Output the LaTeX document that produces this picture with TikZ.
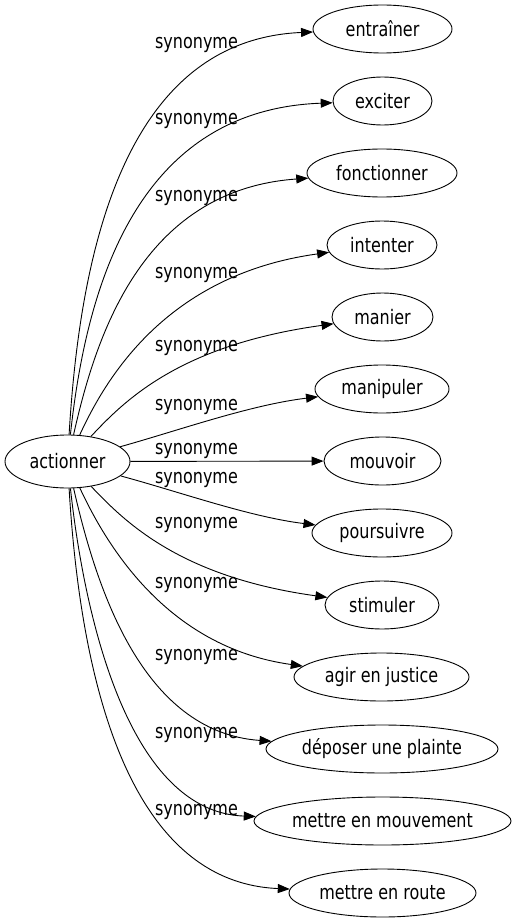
\documentclass[tikz,border=0pt]{standalone}
\usepackage{fontspec}
\setmainfont{DejaVu Sans}[FakeStretch=0.8]
\usepackage{tikz}
\usetikzlibrary{arrows.meta,shapes.geometric}

\tikzset{
  word/.style={draw, ellipse, line width=0.9pt, inner sep=0pt, minimum height=48pt, minimum width=#1},
  syn/.style={inner sep=0pt},
  rel/.style={line width=0.9pt, -{Triangle[length=12pt,width=9pt]}}
}

\begin{document}
\begin{tikzpicture}[x=1pt, y=-1pt, font=\fontsize{20}{24}\selectfont]
\useasboundingbox (0,0) rectangle (515,923);
\node[word=125pt, minimum height=53pt] (act) at (67.5,461.5) {actionner};
\node[word=139pt] (entr) at (382.5,29) {entraîner};
\node[word=99pt] (exci) at (382.5,101) {exciter};
\node[word=150pt] (fonc) at (382,173) {fonctionner};
\node[word=110pt] (inte) at (382,245) {intenter};
\node[word=101pt] (mani) at (382.5,317) {manier};
\node[word=134pt] (manp) at (382,389) {manipuler};
\node[word=117pt] (mouv) at (382.5,461) {mouvoir};
\node[word=140pt] (pour) at (382,533) {poursuivre};
\node[word=114pt] (stim) at (382,605) {stimuler};
\node[word=175pt] (agir) at (381.5,677) {agir en justice};
\node[word=232pt] (depo) at (382,749) {déposer une plainte};
\node[word=257pt] (mmvt) at (382.5,821) {mettre en mouvement};
\node[word=187pt] (mrte) at (382.5,893) {mettre en route};

% edges, top half
\draw[rel] (act) .. controls (80,250) and (125,40) .. (entr);
\draw[rel] (act) .. controls (85,300) and (130,110) .. (exci);
\draw[rel] (act) .. controls (95,340) and (140,190) .. (fonc);
\draw[rel] (act) .. controls (105,380) and (165,275) .. (inte);
\draw[rel] (act) .. controls (125,400) and (180,345) .. (mani);
\draw[rel] (act) .. controls (180,430) and (250,405) .. (manp);
\draw[rel] (act) -- (mouv);
% edges, bottom half
\draw[rel] (act) .. controls (180,492) and (250,517) .. (pour);
\draw[rel] (act) .. controls (125,522) and (180,577) .. (stim);
\draw[rel] (act) .. controls (105,542) and (165,647) .. (agir);
\draw[rel] (act) .. controls (95,582) and (140,732) .. (depo);
\draw[rel] (act) .. controls (85,622) and (130,812) .. (mmvt);
\draw[rel] (act) .. controls (80,672) and (125,882) .. (mrte);

% labels
\node[syn] (s1) at (196.5,44.5) {synonyme};
\node[syn] (s2) at (196.5,120.5) {synonyme};
\node[syn] (s3) at (196.5,198) {synonyme};
\node[syn] (s4) at (196.5,275) {synonyme};
\node[syn] (s5) at (196.5,348) {synonyme};
\node[syn] (s6) at (196.5,407) {synonyme};
\node[syn] (s7) at (196.5,451) {synonyme};
\node[syn] (s8) at (196.5,479.5) {synonyme};
\node[syn] (s9) at (196.5,525) {synonyme};
\node[syn] (s10) at (196.5,584.5) {synonyme};
\node[syn] (s11) at (196.5,657) {synonyme};
\node[syn] (s12) at (196.5,735) {synonyme};
\node[syn] (s13) at (196.5,811.5) {synonyme};
\end{tikzpicture}
\end{document}
